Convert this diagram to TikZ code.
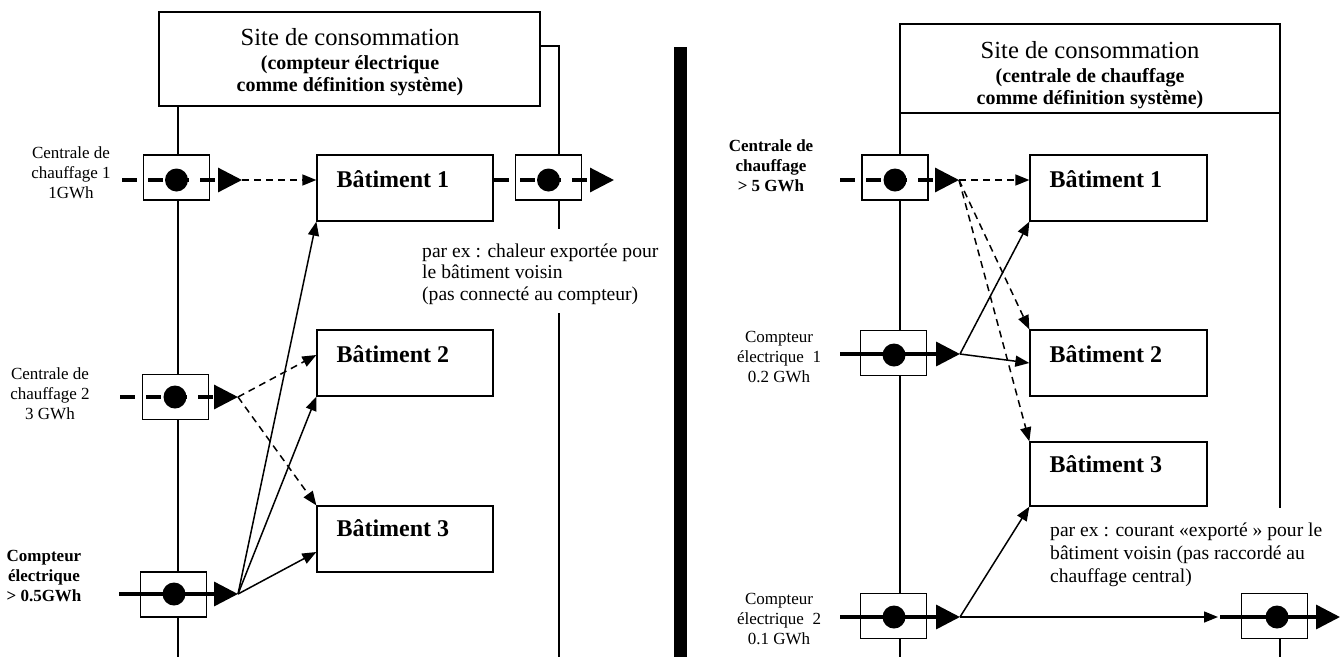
\documentclass[tikz,border=0pt]{standalone}
\usepackage{fontspec}
\setmainfont{Liberation Serif}
\usetikzlibrary{arrows.meta}
\begin{document}
\begin{tikzpicture}[x=1pt,y=-1pt,
  frame/.style={line width=1.3pt},
  sitebox/.style={draw,line width=1.3pt,inner sep=0pt},
  sitetitle/.style={inner sep=0pt,font=\fontsize{24.6}{28}\selectfont},
  sitesub/.style={inner sep=0pt,align=center,font=\fontsize{20}{22}\selectfont\bfseries},
  meter/.style={draw,line width=1.3pt,fill=white,inner sep=0pt,minimum width=66pt,minimum height=45pt},
  bat/.style={draw,line width=1.3pt,inner sep=0pt,minimum width=176pt,minimum height=66pt},
  battxt/.style={anchor=west,inner sep=0pt,font=\fontsize{24}{28}\selectfont\bfseries},
  dot/.style={circle,fill=black,inner sep=0pt,minimum size=23pt},
  heat/.style={line width=3.2pt,dash pattern=on 15pt off 11pt,-{Triangle[length=24pt,width=24pt]}},
  elec/.style={line width=3.5pt,-{Triangle[length=24pt,width=24pt]}},
  flow/.style={line width=1.5pt,-{Triangle[length=14pt,width=11pt]}},
  flowd/.style={flow,dash pattern=on 7pt off 5pt},
  lab/.style={align=center,inner sep=0pt,font=\fontsize{17}{20}\selectfont},
  labb/.style={align=center,inner sep=0pt,font=\fontsize{17}{20}\selectfont\bfseries},
  note/.style={align=left,inner sep=0pt,anchor=west,font=\fontsize{19.6}{21.5}\selectfont},
]
\useasboundingbox (0,0) rectangle (1342,657);

% ================= LEFT PANEL =================
\node[sitebox,minimum width=381pt,minimum height=94pt] (siteL) at (349.5,59) {};
\node[sitetitle] (siteLt) at (350,37) {Site de consommation};
\node[sitesub] (siteLs) at (350,76) {(compteur électrique\\comme définition système)};

\draw[frame] (178,106) -- (178,657);
\draw[frame] (540,46) -- (559,46) -- (559,229);
\draw[frame] (559,313) -- (559,657);

\node[meter] (mL1) at (176.5,177.5) {};
\node[meter] (mL2) at (175.5,397) {};
\node[meter] (mL3) at (173.5,594.5) {};
\node[meter] (mLx) at (548.5,177.5) {};

\node[bat] (bL1) at (405,188) {};
\node[bat] (bL2) at (405,363) {};
\node[bat] (bL3) at (405,539) {};
\node[battxt] (tL1) at ([xshift=20pt,yshift=-25pt]bL1.north west) {Bâtiment 1};
\node[battxt] (tL2) at ([xshift=20pt,yshift=-25pt]bL2.north west) {Bâtiment 2};
\node[battxt] (tL3) at ([xshift=20pt,yshift=-23pt]bL3.north west) {Bâtiment 3};

\coordinate (sL1) at (122,180); \coordinate (fL1) at (242,180);
\coordinate (sL2) at (120,397); \coordinate (fL2) at (238,397);
\coordinate (sL3) at (119,594); \coordinate (fL3) at (238,594);
\coordinate (sLx) at (494,180); \coordinate (eLx) at (614,180);

\draw[heat] (sL1) -- (fL1);
\draw[heat] (sL2) -- (fL2);
\draw[elec] (sL3) -- (fL3);
\draw[heat] (sLx) -- (eLx);
\node[dot] (dL1) at (176.5,180) {};
\node[dot] (dL2) at (175,397) {};
\node[dot] (dL3) at (174,594) {};
\node[dot] (dLx) at (548.5,180) {};

\draw[flowd] (fL1) -- (fL1 -| bL1.west);
\draw[flowd] (fL2) -- ([yshift=8pt]bL2.west);
\draw[flowd] (fL2) -- (bL3.north west);
\draw[flow] (fL3) -- (bL1.south west);
\draw[flow] (fL3) -- (bL2.south west);
\draw[flow] (fL3) -- ([yshift=-13pt]bL3.west);

\node[lab] (lL1) at (71,173) {Centrale de\\chauffage 1\\1GWh};
\node[lab] (lL2) at (50,394) {Centrale de\\chauffage 2\\3 GWh};
\node[labb] (lL3) at (44,576) {Compteur\\électrique\\> 0.5GWh};
\node[note] (nL) at (422,274) {par ex : chaleur exportée pour\\le bâtiment voisin\\(pas connecté au compteur)};

% ================= SEPARATOR =================
\fill (674,47) rectangle (687,657);

% ================= RIGHT PANEL =================
\node[sitebox,minimum width=380pt,minimum height=89pt] (siteR) at (1090,68.5) {};
\node[sitetitle] (siteRt) at (1090,50) {Site de consommation};
\node[sitesub] (siteRs) at (1090,88.5) {(centrale de chauffage\\comme définition système)};

\draw[frame] (900,113) -- (900,657);
\draw[frame] (1280,113) -- (1280,508);
\draw[frame] (1280,638) -- (1280,657);

\node[meter] (mR1) at (895,177.5) {};
\node[meter] (mR2) at (893.5,353) {};
\node[meter] (mR3) at (893.5,616) {};
\node[meter] (mRx) at (1274.5,616) {};

\node[bat,minimum width=177pt] (bR1) at (1118.5,188) {};
\node[bat,minimum width=177pt] (bR2) at (1118.5,363) {};
\node[bat,minimum width=177pt,minimum height=64pt] (bR3) at (1118.5,474) {};
\node[battxt] (tR1) at ([xshift=20pt,yshift=-25pt]bR1.north west) {Bâtiment 1};
\node[battxt] (tR2) at ([xshift=20pt,yshift=-25pt]bR2.north west) {Bâtiment 2};
\node[battxt] (tR3) at ([xshift=20pt,yshift=-23pt]bR3.north west) {Bâtiment 3};

\coordinate (sR1) at (840,180); \coordinate (fR1) at (959,180);
\coordinate (sR2) at (840,354); \coordinate (fR2) at (960,354);
\coordinate (sR3) at (840,617); \coordinate (fR3) at (960,617);
\coordinate (xR) at (1218,617);
\coordinate (sRx) at (1220,617); \coordinate (eRx) at (1340,617);

\draw[heat] (sR1) -- (fR1);
\draw[elec] (sR2) -- (fR2);
\draw[elec] (sR3) -- (fR3);
\draw[elec] (sRx) -- (eRx);
\node[dot] (dR1) at (895,180) {};
\node[dot] (dR2) at (894,355) {};
\node[dot] (dR3) at (894,617) {};
\node[dot] (dRx) at (1277,617) {};

\draw[flowd] (fR1) -- (fR1 -| bR1.west);
\draw[flowd] (fR1) -- (bR2.north west);
\draw[flowd] (fR1) -- (bR3.north west);
\draw[flow] (fR2) -- (bR1.south west);
\draw[flow] (fR2) -- (bR2.west);
\draw[flow] (fR3) -- (bR3.south west);
\draw[flow] (fR3) -- (xR);

\node[labb] (lR1) at (771,166) {Centrale de\\chauffage\\> 5 GWh};
\node[lab] (lR2) at (779,357) {Compteur\\électrique~~1\\0.2 GWh};
\node[lab] (lR3) at (779,619) {Compteur\\électrique~~2\\0.1 GWh};
\node[note,font=\fontsize{19.6}{23}\selectfont] (nR) at (1050,555) {par ex : courant «exporté » pour le\\bâtiment voisin (pas raccordé au\\chauffage central)};
\end{tikzpicture}
\end{document}
